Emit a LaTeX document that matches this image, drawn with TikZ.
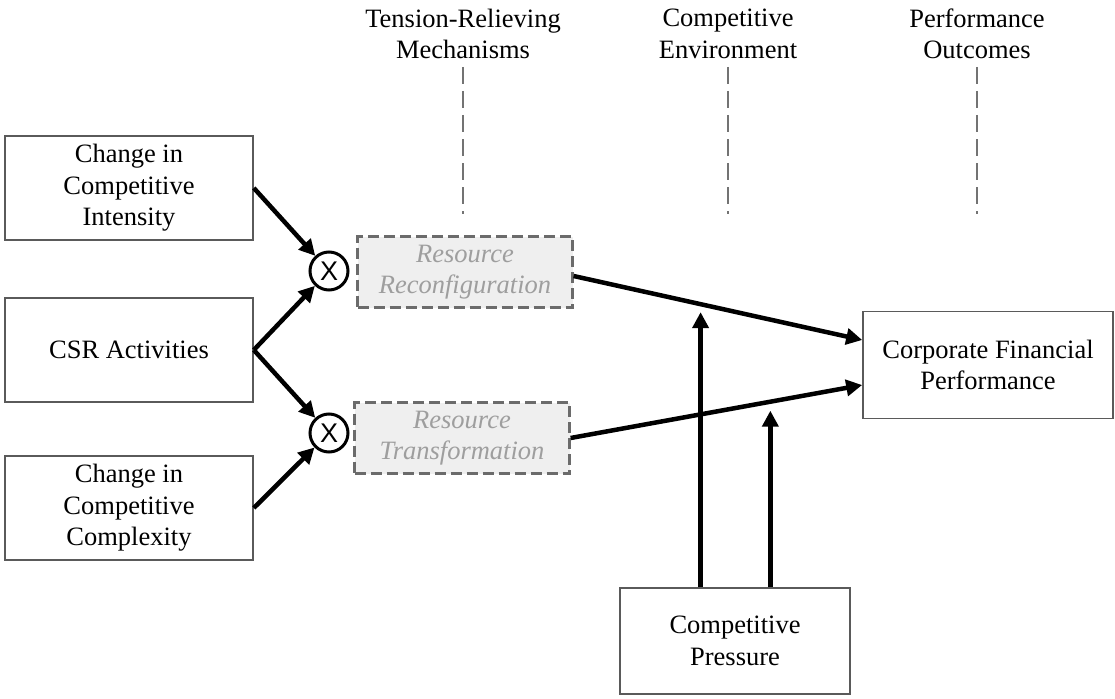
\documentclass[tikz,border=0pt]{standalone}
\usepackage{fontspec}
\setmainfont{Liberation Serif}
\newfontfamily\xfont{Liberation Sans}
\usetikzlibrary{arrows.meta}
\definecolor{boxline}{HTML}{5A5A5A}
\definecolor{mechfill}{HTML}{EFEFEF}
\definecolor{mechline}{HTML}{6B6B6B}
\definecolor{mechtext}{HTML}{9E9E9E}
\tikzset{
  block/.style = {draw=boxline, line width=1.6pt, align=center,
                  minimum width=#1, minimum height=104pt, inner sep=0pt},
  block/.default = 248pt,
  mech/.style = {draw=mechline, fill=mechfill, line width=2.2pt,
                 dash pattern=on 11pt off 5pt, align=center,
                 text=mechtext, font=\fontsize{26.5}{31.5}\selectfont\itshape,
                 minimum width=215pt, minimum height=71pt, inner sep=0pt},
  mult/.style = {circle, draw, line width=3pt, minimum size=38pt,
                 inner sep=0pt, font=\xfont\fontsize{27}{27}\selectfont},
  conn/.style = {line width=4.5pt, -{Triangle[length=16pt,width=16pt]}},
  guide/.style = {draw=black!55, line width=1.3pt, dash pattern=on 17pt off 7pt}
}
\begin{document}
\begin{tikzpicture}[x=1pt, y=-1pt, every node/.style={font=\fontsize{26.5}{31.5}\selectfont}]
	\def \topy{67}
	\def \boty{214}
	\useasboundingbox (0,0) rectangle (1115,698);

	% Column headings
	\node[align=center] (hmech) at (463,34) {Tension-Relieving\\Mechanisms};
	\node[align=center] (henv)  at (728,34) {Competitive\\Environment};
	\node[align=center] (hout)  at (977,34) {Performance\\Outcomes};
	\draw[guide] (463,\topy) -- (463,\boty);
	\draw[guide] (728,\topy) -- (728,\boty);
	\draw[guide] (977,\topy) -- (977,\boty);

	% Antecedents
	\node[block] (inten) at (129,188) {Change in\\Competitive\\Intensity};
	\node[block] (csr)   at (129,350) {CSR Activities};
	\node[block] (compl) at (129,508) {Change in\\Competitive\\Complexity};

	% Interactions
	\node[mult] (xa) at (329,271) {X};
	\node[mult] (xb) at (329,433) {X};

	% Mechanisms
	\node[mech] (recon) at (465,272) {Resource\\Reconfiguration};
	\node[mech] (trans) at (462,438) {Resource\\Transformation};

	% Outcome and moderator
	\node[block=250pt, minimum height=107pt] (cfp) at (988,365) {Corporate Financial\\Performance};
	\node[block=230pt, minimum height=106pt] (press) at (735,641) {Competitive\\Pressure};

	% Arrows
	\draw[conn] (inten.east) -- (xa);
	\draw[conn] (csr.east) -- (xa);
	\draw[conn] (csr.east) -- (xb);
	\draw[conn] (compl.east) -- (xb);
	\draw[conn] ([yshift=-4pt]recon.east) -- coordinate[pos=0.44] (moda) ([yshift=25pt]cfp.west);
	\draw[conn] (trans.east) -- coordinate[pos=0.685] (modb) ([yshift=-20pt]cfp.west);
	\draw[conn] (moda |- press.north) -- ([yshift=-8pt]moda);
	\draw[conn] (modb |- press.north) -- ([yshift=-9pt]modb);

\end{tikzpicture}
\end{document}
